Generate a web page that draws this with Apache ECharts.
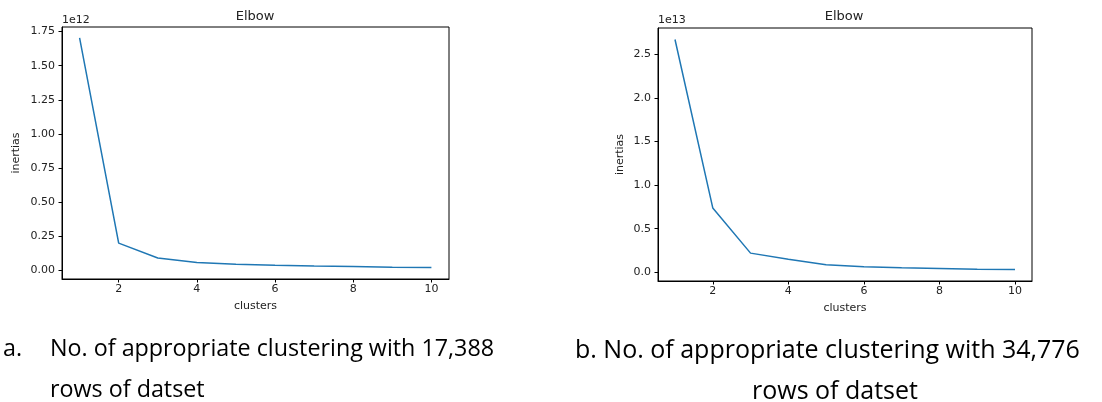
<!DOCTYPE html>
<html>
<head>
<meta charset="utf-8">
<script src="https://cdn.jsdelivr.net/npm/echarts@6/dist/echarts.min.js"></script>
<style>
  html, body { margin: 0; padding: 0; background: #fff; }
  #main { width: 1102px; height: 402px; }
</style>
</head>
<body>
<div id="main"></div>
<script>
// 数据：k 值与对应的 inertia（左图单位 1e12，右图单位 1e13）
var clusters = [1, 2, 3, 4, 5, 6, 7, 8, 9, 10];
var inertiasA = [1.705, 0.199, 0.090, 0.057, 0.044, 0.037, 0.031, 0.027, 0.023, 0.020];
var inertiasB = [2.672, 0.738, 0.219, 0.150, 0.085, 0.062, 0.050, 0.043, 0.035, 0.031];
var xTicks = [2, 4, 6, 8, 10];
var yTicksA = [0, 0.25, 0.5, 0.75, 1.0, 1.25, 1.5, 1.75];
var yTicksB = [0, 0.5, 1.0, 1.5, 2.0, 2.5];

var myChart = echarts.init(document.getElementById('main'));

var txt = '#222';
var mplFont = 'DejaVu Sans';
var capFont = "'Open Sans', sans-serif";

function pairs(ys) {
    return clusters.map(function (x, i) { return [x, ys[i]]; });
}

function xAxisOf(gridIndex) {
    return {
        type: 'value', gridIndex: gridIndex,
        min: 0.55, max: 10.45,
        name: 'clusters', nameLocation: 'middle', nameGap: 22,
        nameTextStyle: { color: txt, fontFamily: mplFont, fontSize: 11 },
        axisLine: { show: true, onZero: false, lineStyle: { color: '#000', width: 1 } },
        axisTick: { show: true, length: 3.5, customValues: xTicks, lineStyle: { color: '#000' } },
        axisLabel: { customValues: xTicks, margin: 5, color: txt, fontFamily: mplFont, fontSize: 11 },
        splitLine: { show: false }
    };
}

function yAxisOf(gridIndex, min, max, ticks, digits, gap) {
    return {
        type: 'value', gridIndex: gridIndex,
        min: min, max: max,
        name: 'inertias', nameLocation: 'middle', nameGap: gap,
        nameTextStyle: { color: txt, fontFamily: mplFont, fontSize: 11 },
        axisLine: { show: true, onZero: false, lineStyle: { color: '#000', width: 1 } },
        axisTick: { show: true, length: 3.5, customValues: ticks, lineStyle: { color: '#000' } },
        axisLabel: {
            customValues: ticks, margin: 7, color: txt, fontFamily: mplFont, fontSize: 11,
            formatter: function (v) { return v.toFixed(digits); }
        },
        splitLine: { show: false }
    };
}

function capStyle(size) {
    return { color: '#000', fontFamily: capFont, fontSize: size, fontWeight: 'normal' };
}

option = {
    animation: false,
    backgroundColor: '#fff',
    title: [
        { text: 'Elbow', left: 255, top: 10, textAlign: 'center', padding: 0,
          textStyle: { color: txt, fontFamily: mplFont, fontSize: 13, fontWeight: 'normal' } },
        { text: 'Elbow', left: 844, top: 10, textAlign: 'center', padding: 0,
          textStyle: { color: txt, fontFamily: mplFont, fontSize: 13, fontWeight: 'normal' } },
        { text: '1e12', left: 62, top: 15, padding: 0,
          textStyle: { color: txt, fontFamily: mplFont, fontSize: 11, fontWeight: 'normal' } },
        { text: '1e13', left: 658, top: 15, padding: 0,
          textStyle: { color: txt, fontFamily: mplFont, fontSize: 11, fontWeight: 'normal' } },
        { text: 'a.', left: 3, top: 338, padding: 0, textStyle: capStyle(23.3) },
        { text: 'No. of appropriate clustering with 17,388', left: 50, top: 338, padding: 0, textStyle: capStyle(23.3) },
        { text: 'rows of datset', left: 50, top: 379, padding: 0, textStyle: capStyle(23.3) },
        { text: 'b. No. of appropriate clustering with 34,776', left: 575, top: 338, padding: 0, textStyle: capStyle(25) },
        { text: 'rows of datset', left: 835, top: 379, textAlign: 'center', padding: 0, textStyle: capStyle(25) }
    ],
    grid: [
        { left: 62, top: 27, width: 387, height: 252, show: true, borderColor: '#000', borderWidth: 1, backgroundColor: 'transparent' },
        { left: 658, top: 28, width: 374, height: 253, show: true, borderColor: '#000', borderWidth: 1, backgroundColor: 'transparent' }
    ],
    xAxis: [xAxisOf(0), xAxisOf(1)],
    yAxis: [
        yAxisOf(0, -0.064, 1.784, yTicksA, 2, 40),
        yAxisOf(1, -0.101, 2.804, yTicksB, 1, 32)
    ],
    series: [
        { type: 'line', xAxisIndex: 0, yAxisIndex: 0, data: pairs(inertiasA),
          showSymbol: false, lineStyle: { color: '#1f77b4', width: 1.5 }, itemStyle: { color: '#1f77b4' } },
        { type: 'line', xAxisIndex: 1, yAxisIndex: 1, data: pairs(inertiasB),
          showSymbol: false, lineStyle: { color: '#1f77b4', width: 1.5 }, itemStyle: { color: '#1f77b4' } }
    ]
};

myChart.setOption(option);
</script>
</body>
</html>
